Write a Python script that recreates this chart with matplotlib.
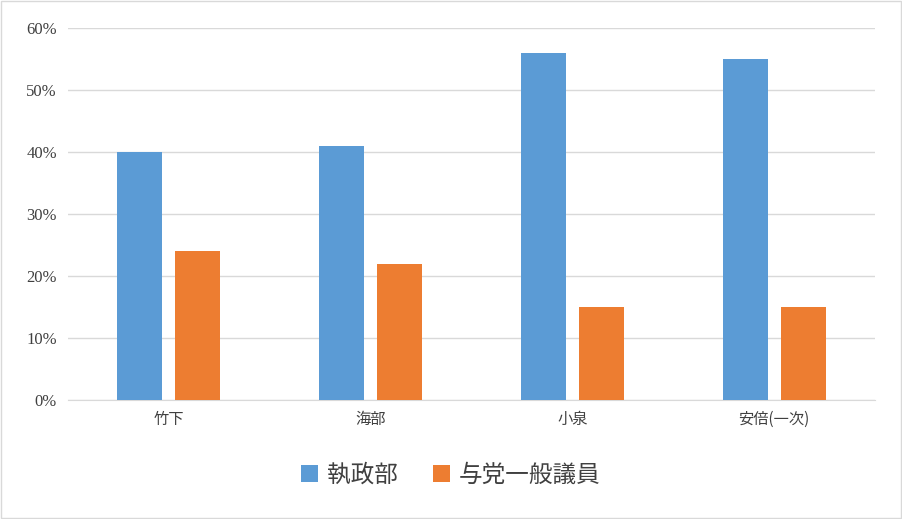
import matplotlib.pyplot as plt
import numpy as np

categories = ['竹下', '海部', '小泉', '安倍(一次)']
executive = [40, 41, 56, 55]
backbench = [24, 22, 15, 15]
series_names = ['執政部', '与党一般議員']

plt.rcParams['font.family'] = ['Liberation Serif', 'Noto Sans CJK JP', 'DejaVu Sans']

fig = plt.figure(figsize=(9.02, 5.19), dpi=100)
ax = fig.add_axes([68 / 902, 119 / 519, 807 / 902, 372 / 519])

x = np.arange(len(categories))
w = 0.223
gap = 0.064
ax.bar(x - (w + gap) / 2, executive, w, color='#5b9bd5', label=series_names[0], zorder=3)
ax.bar(x + (w + gap) / 2, backbench, w, color='#ed7d31', label=series_names[1], zorder=3)

ax.set_xlim(-0.5, 3.5)
ax.set_ylim(0, 60)
ax.set_yticks(range(0, 61, 10))
ax.set_yticklabels([f'{v}%' for v in range(0, 61, 10)], fontsize=12, color='#404040')
ax.set_xticks(x)
ax.set_xticklabels(categories, fontsize=11, color='#404040',
                   family=['Noto Sans CJK JP', 'DejaVu Sans'])
ax.tick_params(length=0, pad=8)
ax.yaxis.grid(True, color='#d9d9d9', lw=1, zorder=0)
for s in ['top', 'right', 'left']:
    ax.spines[s].set_visible(False)
ax.spines['bottom'].set_color('#d9d9d9')

leg = fig.legend(loc='center', bbox_to_anchor=(0.5, 44 / 519), ncol=2, frameon=False,
                 prop={'family': ['Noto Sans CJK JP', 'DejaVu Sans'], 'size': 17},
                 handlelength=0.7, handleheight=0.7, columnspacing=1.5, handletextpad=0.4)
for t in leg.get_texts():
    t.set_color('#404040')

fig.patches.append(plt.Rectangle((0.001, 0.001), 0.998, 0.998, transform=fig.transFigure,
                                 fill=False, edgecolor='#d9d9d9', lw=1))
fig.savefig('out.png', dpi=100)
